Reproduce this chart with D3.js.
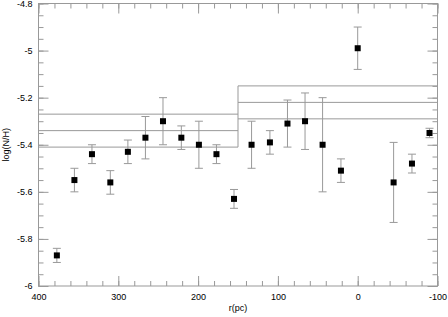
<!DOCTYPE html>
<html>
<head>
<meta charset="utf-8">
<script src="https://cdn.jsdelivr.net/npm/d3@7"></script>
<style>
  body { margin: 0; background: #fff; }
  svg { display: block; font-family: "Liberation Sans", Arial, sans-serif; }
  .tick text { font-size: 9px; fill: #000; }
  .tick line { stroke: #999; }
  .domain { display: none; }
</style>
</head>
<body>
<script>
"use strict";

// distance r (pc) and log(N/H) with errors
const radius = [377, 355, 333, 310, 288, 266, 244, 221, 199, 177, 155, 133, 110, 88, 66, 44, 21, 0, -45, -68, -90];
const logNH = [-5.87, -5.55, -5.44, -5.56, -5.43, -5.37, -5.30, -5.37, -5.40, -5.44, -5.63, -5.40, -5.39, -5.31, -5.30, -5.40, -5.51, -4.99, -5.56, -5.48, -5.35];
const logErr = [0.03, 0.05, 0.04, 0.05, 0.05, 0.09, 0.10, 0.05, 0.10, 0.04, 0.04, 0.10, 0.05, 0.10, 0.12, 0.20, 0.05, 0.09, 0.17, 0.04, 0.02];

// two bins: mean and +-1 sigma levels
const binEdges = [400, 150, -100];
const binMean = [-5.34, -5.22];
const binLow = [-5.41, -5.29];
const binHigh = [-5.27, -5.15];

const xMajor = [400, 300, 200, 100, 0, -100];
const xLabels = ["400", "300", "200", "100", "0", "-100"];
const xMinor = d3.range(400, -101, -20);
const yMajor = [-6, -5.8, -5.6, -5.4, -5.2, -5, -4.8];
const yLabels = ["-6", "-5.8", "-5.6", "-5.4", "-5.2", "-5", "-4.8"];
const yMinor = d3.range(-6, -4.79, 0.05);

let W = 448, H = 317;
let svg = d3.select("body").append("svg").attr("width", W).attr("height", H);

let x = d3.scaleLinear().domain([400, -100]).range([38.5, 437.5]);
let y = d3.scaleLinear().domain([-6, -4.8]).range([286, 3.5]);

let axisColor = "#999";

let fmt = (vals, labels) => v => labels[vals.indexOf(v)];

// minor ticks, all four sides
svg.append("g").attr("transform", `translate(0,${y(-6)})`)
  .call(d3.axisBottom(x).tickValues(xMinor).tickSize(-5).tickFormat(""));
svg.append("g").attr("transform", `translate(0,${y(-4.8)})`)
  .call(d3.axisTop(x).tickValues(xMinor).tickSize(-5).tickFormat(""));
svg.append("g").attr("transform", `translate(${x(400)},0)`)
  .call(d3.axisLeft(y).tickValues(yMinor).tickSize(-5).tickFormat(""));
svg.append("g").attr("transform", `translate(${x(-100)},0)`)
  .call(d3.axisRight(y).tickValues(yMinor).tickSize(-5).tickFormat(""));

// major ticks
svg.append("g").attr("transform", `translate(0,${y(-6)})`)
  .call(d3.axisBottom(x).tickValues(xMajor).tickSize(-10).tickPadding(8).tickFormat(fmt(xMajor, xLabels)));
svg.append("g").attr("transform", `translate(0,${y(-4.8)})`)
  .call(d3.axisTop(x).tickValues(xMajor).tickSize(-10).tickFormat(""));
svg.append("g").attr("transform", `translate(${x(400)},0)`)
  .call(d3.axisLeft(y).tickValues(yMajor).tickSize(-10).tickPadding(6).tickFormat(fmt(yMajor, yLabels)));
svg.append("g").attr("transform", `translate(${x(-100)},0)`)
  .call(d3.axisRight(y).tickValues(yMajor).tickSize(-10).tickFormat(""));

// frame
svg.append("rect")
  .attr("x", x(400)).attr("y", y(-4.8))
  .attr("width", x(-100) - x(400)).attr("height", y(-6) - y(-4.8))
  .attr("fill", "none").attr("stroke", axisColor);

// bin levels
let levels = [binLow, binMean, binHigh];
levels.forEach(lv => {
  svg.append("g").selectAll("line").data(lv).enter().append("line")
    .attr("x1", (d, i) => x(binEdges[i]))
    .attr("x2", (d, i) => x(binEdges[i + 1]))
    .attr("y1", d => y(d)).attr("y2", d => y(d))
    .attr("stroke", axisColor);
});
svg.append("line")
  .attr("x1", x(binEdges[1])).attr("x2", x(binEdges[1]))
  .attr("y1", y(binLow[0])).attr("y2", y(binHigh[1]))
  .attr("stroke", axisColor);

// error bars
let pts = radius.map((r, i) => ({r: r, v: logNH[i], e: logErr[i]}));
let eb = svg.append("g").attr("stroke", axisColor);
eb.selectAll(".v").data(pts).enter().append("line")
  .attr("x1", d => x(d.r)).attr("x2", d => x(d.r))
  .attr("y1", d => y(d.v - d.e)).attr("y2", d => y(d.v + d.e));
eb.selectAll(".t").data(pts).enter().append("line")
  .attr("x1", d => x(d.r) - 4).attr("x2", d => x(d.r) + 4)
  .attr("y1", d => y(d.v + d.e)).attr("y2", d => y(d.v + d.e));
eb.selectAll(".b").data(pts).enter().append("line")
  .attr("x1", d => x(d.r) - 4).attr("x2", d => x(d.r) + 4)
  .attr("y1", d => y(d.v - d.e)).attr("y2", d => y(d.v - d.e));

// markers
svg.append("g").selectAll("rect").data(pts).enter().append("rect")
  .attr("x", d => x(d.r) - 3).attr("y", d => y(d.v) - 3)
  .attr("width", 6).attr("height", 6)
  .attr("fill", "#000");

// titles
svg.append("text")
  .attr("x", (x(400) + x(-100)) / 2).attr("y", 311)
  .attr("text-anchor", "middle").attr("font-size", 9)
  .text("r(pc)");
svg.append("text")
  .attr("transform", `translate(8.5,${(y(-6) + y(-4.8)) / 2}) rotate(-90)`)
  .attr("text-anchor", "middle").attr("font-size", 9)
  .text("log(N/H)");
</script>
</body>
</html>
